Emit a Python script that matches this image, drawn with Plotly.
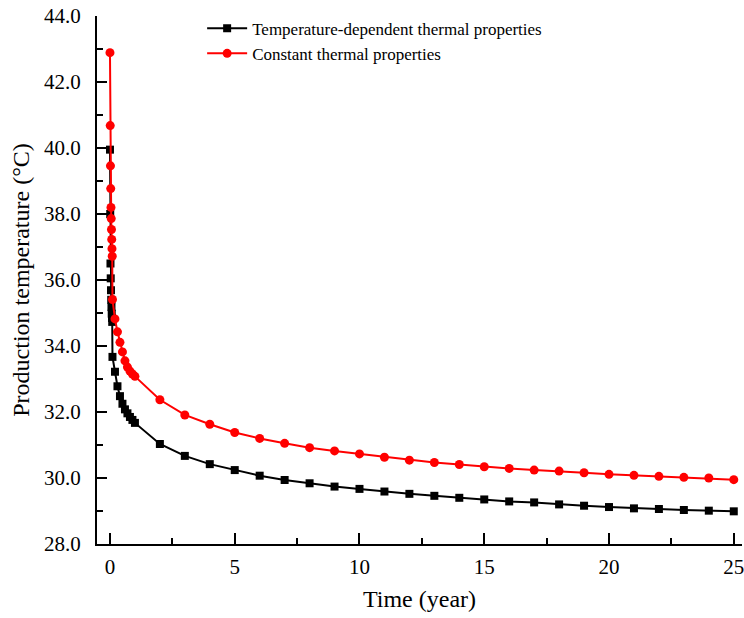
import plotly.graph_objects as go

# Time (year)
time = [0, 0.01, 0.02, 0.03, 0.04, 0.05, 0.06, 0.07, 0.08, 0.09,
        0.1, 0.2, 0.3, 0.4, 0.5, 0.6, 0.7, 0.8, 0.9, 1.0,
        2, 3, 4, 5, 6, 7, 8, 9, 10, 11, 12, 13, 14, 15,
        16, 17, 18, 19, 20, 21, 22, 23, 24, 25]

temp_dependent = [39.95, 38.00, 36.50, 36.05, 35.69, 35.40, 35.18, 34.98, 34.85, 34.73,
                  33.67, 33.22, 32.78, 32.48, 32.25, 32.08, 31.96, 31.85, 31.76, 31.67,
                  31.03, 30.67, 30.42, 30.24, 30.07, 29.94, 29.84, 29.74, 29.67, 29.59,
                  29.52, 29.46, 29.40, 29.35, 29.29, 29.26, 29.20, 29.16, 29.12, 29.08,
                  29.06, 29.03, 29.01, 28.99]

constant = [42.89, 40.68, 39.46, 38.77, 38.20, 37.86, 37.53, 37.23, 36.95, 36.72,
            35.41, 34.82, 34.43, 34.11, 33.82, 33.55, 33.36, 33.24, 33.15, 33.08,
            32.37, 31.91, 31.63, 31.38, 31.20, 31.05, 30.92, 30.82, 30.73, 30.63,
            30.54, 30.47, 30.41, 30.34, 30.29, 30.24, 30.21, 30.16, 30.11, 30.08,
            30.05, 30.02, 30.00, 29.95]

series_names = ["Temperature-dependent thermal properties", "Constant thermal properties"]

FONT = "Liberation Serif, Times New Roman, serif"

fig = go.Figure()
fig.add_trace(go.Scatter(
    x=time, y=temp_dependent, mode="lines+markers", name=series_names[0],
    line=dict(color="black", width=2),
    marker=dict(symbol="square", size=8, color="black"),
))
fig.add_trace(go.Scatter(
    x=time, y=constant, mode="lines+markers", name=series_names[1],
    line=dict(color="red", width=2),
    marker=dict(symbol="circle", size=9, color="red"),
))

fig.update_layout(
    width=744, height=618,
    margin=dict(l=97, r=0, t=16, b=74),
    plot_bgcolor="white", paper_bgcolor="white",
    font=dict(family=FONT, color="black", size=16),
    showlegend=True,
    legend=dict(
        x=0.163, y=1.01, xanchor="left", yanchor="top",
        bgcolor="rgba(0,0,0,0)", borderwidth=0,
        font=dict(family=FONT, size=17, color="black"),
        tracegroupgap=0, itemwidth=40,
    ),
)

fig.update_xaxes(
    range=[-0.52, 25.33],
    showline=True, linecolor="black", linewidth=2, mirror=False,
    showgrid=False, zeroline=False,
    ticks="inside", tickcolor="black", ticklen=11, tickwidth=1.5,
    tick0=0, dtick=5,
    tickfont=dict(family=FONT, size=21),
    ticklabelstandoff=3,
    ticklabeloverflow="allow",
    minor=dict(ticks="inside", dtick=2.5, tick0=0, ticklen=6, tickcolor="black", tickwidth=1.5, showgrid=False),
    title=dict(text="Time (year)", font=dict(family=FONT, size=24), standoff=12),
)

fig.update_yaxes(
    range=[28, 44],
    showline=True, linecolor="black", linewidth=2, mirror=False,
    showgrid=False, zeroline=False,
    ticks="inside", tickcolor="black", ticklen=10, tickwidth=1.5,
    tick0=28, dtick=2, tickformat=".1f",
    tickfont=dict(family=FONT, size=21),
    ticklabelstandoff=10,
    ticklabeloverflow="allow",
    minor=dict(ticks="inside", dtick=1, tick0=28, ticklen=6, tickcolor="black", tickwidth=1.5, showgrid=False),
    title=dict(text="Production temperature (°C)", font=dict(family=FONT, size=24), standoff=8),
)

fig.write_html("out.html")
